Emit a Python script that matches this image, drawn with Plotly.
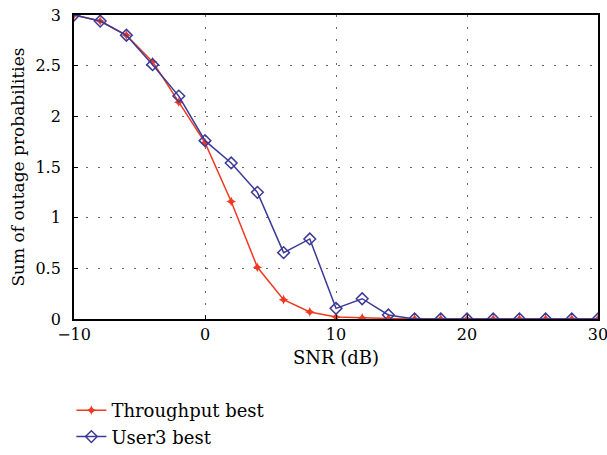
import plotly.graph_objects as go

snr_db = [-10, -8, -6, -4, -2, 0, 2, 4, 6, 8, 10, 12, 14, 16, 18, 20, 22, 24, 26, 28, 30]
throughput_best = [3.0, 2.94, 2.80, 2.54, 2.14, 1.74, 1.16, 0.51, 0.19, 0.07, 0.02, 0.01, 0.005,
                   0.0, 0.0, 0.0, 0.0, 0.0, 0.0, 0.0, 0.0]
user3_best = [3.0, 2.94, 2.80, 2.51, 2.20, 1.76, 1.54, 1.25, 0.655, 0.79, 0.105, 0.20, 0.04,
              0.0, 0.0, 0.0, 0.0, 0.0, 0.0, 0.0, 0.0]

x_ticks = [-10, 0, 10, 20, 30]
x_tick_labels = ["\u221210", "0", "10", "20", "30"]
y_ticks = [0, 0.5, 1, 1.5, 2, 2.5, 3]
y_tick_labels = ["0", "0.5", "1", "1.5", "2", "2.5", "3"]

font_family = "DejaVu Serif"
red = "#ee3a22"
blue = "#3b3a98"

fig = go.Figure()
fig.add_trace(go.Scatter(
    x=snr_db, y=throughput_best, name="Throughput best", mode="lines+markers",
    line=dict(color=red, width=1.5),
    marker=dict(symbol="star-diamond", size=7, color=red),
))
fig.add_trace(go.Scatter(
    x=snr_db, y=user3_best, name="User3 best", mode="lines+markers",
    line=dict(color=blue, width=1.5),
    marker=dict(symbol="diamond-open", size=9, color=blue, line=dict(width=1.5)),
))

axis_common = dict(
    showline=True, linecolor="black", linewidth=1.8, mirror=True,
    ticks="inside", ticklen=4, tickcolor="black",
    showgrid=True, gridcolor="#666666", griddash="2px,10px", gridwidth=1,
    zeroline=False,
    ticklabeloverflow="allow",
    tickfont=dict(family=font_family, size=16, color="black"),
)

fig.update_xaxes(
    range=[-10, 30], tickvals=x_ticks, ticktext=x_tick_labels,
    title=dict(text="SNR (dB)", font=dict(family=font_family, size=18, color="black"), standoff=8),
    automargin=False,
    **axis_common,
)
fig.update_yaxes(
    range=[0, 3], tickvals=y_ticks, ticktext=y_tick_labels,
    title=dict(text="Sum of outage probabilities", font=dict(family=font_family, size=17, color="black"), standoff=6),
    ticklabelstandoff=8,
    automargin=False,
    **axis_common,
)

fig.update_layout(
    width=607, height=455,
    margin=dict(l=74, r=9, t=15, b=136, autoexpand=False),
    plot_bgcolor="white", paper_bgcolor="white",
    font=dict(family=font_family, size=16, color="black"),
    legend=dict(
        x=-0.005, y=-0.24, xanchor="left", yanchor="top",
        font=dict(family=font_family, size=18, color="black"),
        bgcolor="rgba(0,0,0,0)", tracegroupgap=0,
    ),
    showlegend=True,
)

fig.write_html("out.html")
